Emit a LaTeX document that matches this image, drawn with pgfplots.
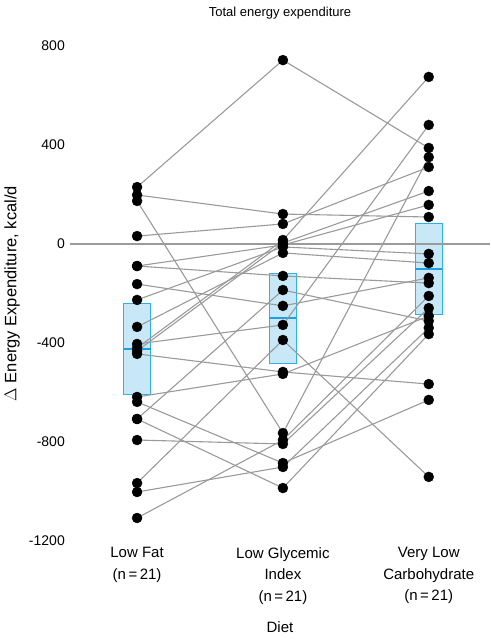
\documentclass[border=0pt]{standalone}
\usepackage{fontspec}
\setmainfont{Liberation Sans}
\usepackage{pgfplots}
\pgfplotsset{compat=1.18}
\definecolor{linegray}{HTML}{9A9A9A}
\definecolor{boxfill}{HTML}{C8E8F8}
\definecolor{boxedge}{HTML}{2BB3E8}
\definecolor{medblue}{HTML}{1E9FDF}

\begin{document}
\begin{tikzpicture}
\useasboundingbox (-70pt,-101pt) rectangle (420pt,541pt);
\begin{axis}[
    scale only axis,
    width=420pt, height=495pt,
    xmin=0.54, xmax=3.42,
    ymin=-1200, ymax=800,
    axis line style={draw=none},
    major tick length=0pt,
    ytick={-1200,-800,-400,0,400,800},
    xtick={1,2,3},
    xticklabels={{Low Fat\\(n\,=\,21)},{Low Glycemic\\Index\\(n\,=\,21)},{Very Low\\Carbohydrate\\(n\,=\,21)}},
    xticklabel style={align=center, font=\fontsize{15}{21.5}\selectfont, inner sep=0pt, yshift=-6pt},
    yticklabel style={font=\fontsize{14}{16}\selectfont, inner sep=0pt, xshift=-5pt},
    /pgf/number format/assume math mode=true,
    /pgf/number format/1000 sep={},
    title={Total energy expenditure},
    title style={font=\fontsize{13}{15}\selectfont, at={(axis description cs:0.5,1)}, anchor=center, yshift=27pt},
    ylabel={$\Delta$ Energy Expenditure, kcal/d},
    ylabel style={font=\fontsize{16.5}{18}\selectfont, at={(axis description cs:-0.138,0.5)}, anchor=center},
    xlabel={Diet},
    xlabel style={font=\fontsize{15}{17}\selectfont, at={(axis description cs:0.5,0)}, anchor=center, yshift=-86pt},
    clip=false,
]
% boxes
\addplot[fill=boxfill, draw=boxedge, line width=1pt] coordinates {(0.9074,-610) (1.0926,-610) (1.0926,-242) (0.9074,-242) (0.9074,-610)};
\addplot[fill=boxfill, draw=boxedge, line width=1pt] coordinates {(1.9074,-481) (2.0926,-481) (2.0926,-121) (1.9074,-121) (1.9074,-481)};
\addplot[fill=boxfill, draw=boxedge, line width=1pt] coordinates {(2.9074,-283) (3.0926,-283) (3.0926,81) (2.9074,81) (2.9074,-283)};
\addplot[medblue, line width=2pt] coordinates {(0.9074,-424) (1.0926,-424)};
\addplot[medblue, line width=2pt] coordinates {(1.9074,-299) (2.0926,-299)};
\addplot[medblue, line width=2pt] coordinates {(2.9074,-101) (3.0926,-101)};
% zero line
\addplot[linegray, line width=1.5pt] coordinates {(0.54,0) (3.42,0)};
% subjects
\addplot[linegray, line width=1.1pt] coordinates {(1,230) (2,743) (3,388)};
\addplot[linegray, line width=1.1pt] coordinates {(1,198) (2,121) (3,109)};
\addplot[linegray, line width=1.1pt] coordinates {(1,174) (2,-764) (3,351)};
\addplot[linegray, line width=1.1pt] coordinates {(1,32) (2,81) (3,311)};
\addplot[linegray, line width=1.1pt] coordinates {(1,-89) (2,-4) (3,158)};
\addplot[linegray, line width=1.1pt] coordinates {(1,-89) (2,-129) (3,-158)};
\addplot[linegray, line width=1.1pt] coordinates {(1,-162) (2,-250) (3,-137)};
\addplot[linegray, line width=1.1pt] coordinates {(1,-226) (2,-12) (3,-40)};
\addplot[linegray, line width=1.1pt] coordinates {(1,-335) (2,-36) (3,-77)};
\addplot[linegray, line width=1.1pt] coordinates {(1,-404) (2,-327) (3,481)};
\addplot[linegray, line width=1.1pt] coordinates {(1,-420) (2,16) (3,675)};
\addplot[linegray, line width=1.1pt] coordinates {(1,-432) (2,4) (3,214)};
\addplot[linegray, line width=1.1pt] coordinates {(1,-444) (2,-517) (3,-566)};
\addplot[linegray, line width=1.1pt] coordinates {(1,-618) (2,-525) (3,-291)};
\addplot[linegray, line width=1.1pt] coordinates {(1,-638) (2,-885) (3,-630)};
\addplot[linegray, line width=1.1pt] coordinates {(1,-707) (2,-986) (3,-364)};
\addplot[linegray, line width=1.1pt] coordinates {(1,-707) (2,-186) (3,-311)};
\addplot[linegray, line width=1.1pt] coordinates {(1,-792) (2,-808) (3,-259)};
\addplot[linegray, line width=1.1pt] coordinates {(1,-966) (2,-388) (3,-941)};
\addplot[linegray, line width=1.1pt] coordinates {(1,-1002) (2,-901) (3,-339)};
\addplot[linegray, line width=1.1pt] coordinates {(1,-1107) (2,-792) (3,-210)};
% markers
\addplot[only marks, mark=*, mark size=5pt, black] coordinates {
(1,230) (1,198) (1,174) (1,32) (1,-89) (1,-89) (1,-162) (1,-226) (1,-335) (1,-404) (1,-420)
(1,-432) (1,-444) (1,-618) (1,-638) (1,-707) (1,-707) (1,-792) (1,-966) (1,-1002) (1,-1107)};
\addplot[only marks, mark=*, mark size=5pt, black] coordinates {
(2,743) (2,121) (2,-764) (2,81) (2,-4) (2,-129) (2,-250) (2,-12) (2,-36) (2,-327) (2,16)
(2,4) (2,-517) (2,-525) (2,-885) (2,-986) (2,-186) (2,-808) (2,-388) (2,-901) (2,-792)};
\addplot[only marks, mark=*, mark size=5pt, black] coordinates {
(3,388) (3,109) (3,351) (3,311) (3,158) (3,-158) (3,-137) (3,-40) (3,-77) (3,481) (3,675)
(3,214) (3,-566) (3,-291) (3,-630) (3,-364) (3,-311) (3,-259) (3,-941) (3,-339) (3,-210)};
\end{axis}
\end{tikzpicture}
\end{document}
